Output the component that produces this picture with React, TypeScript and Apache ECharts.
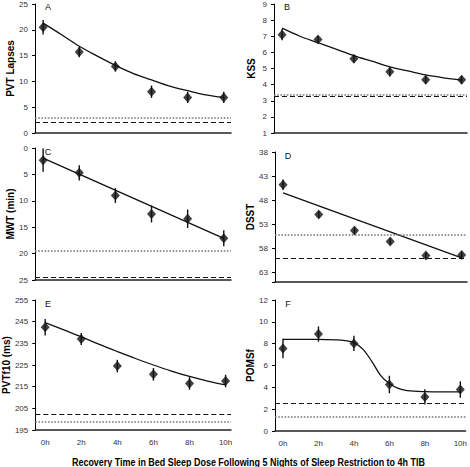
import React, { useEffect, useRef } from "react";
import * as echarts from "echarts";

const HOURS = [0, 2, 4, 6, 8, 10];
const HOUR_LABELS = ["0h", "2h", "4h", "6h", "8h", "10h"];
const FIT_HOURS = [0, 1, 2, 3, 4, 5, 6, 7, 8, 9, 10];
const LINE_HOURS = [0, 10];
const POMS_FIT_HOURS = [0, 1, 2, 3, 3.5, 4, 4.5, 5, 5.5, 6, 6.5, 7, 8, 9, 10];

// A: PVT Lapses
const PVT_MEAN = [20.5, 15.7, 12.9, 8.0, 6.9, 6.9];
const PVT_ERR = [1.4, 1.0, 1.0, 1.2, 1.1, 1.1];
const PVT_FIT = [21.3, 19.1, 16.8, 14.9, 13.1, 11.5, 10.3, 9.1, 8.2, 7.4, 6.9];
const PVT_DOTTED = 2.9;
const PVT_DASHED = 2.1;

// B: KSS
const KSS_MEAN = [7.1, 6.8, 5.6, 4.8, 4.3, 4.3];
const KSS_ERR = [0.35, 0.22, 0.24, 0.3, 0.25, 0.25];
const KSS_FIT = [7.5, 7.0, 6.6, 6.2, 5.8, 5.45, 5.1, 4.85, 4.6, 4.42, 4.28];
const KSS_DOTTED = 3.36;
const KSS_DASHED = 3.26;

// C: MWT (min)
const MWT_MEAN = [2.3, 4.7, 9.0, 12.5, 13.4, 17.1];
const MWT_ERR = [2.2, 1.45, 1.4, 1.6, 1.75, 1.5];
const MWT_FIT = [1.9, 17.1];
const MWT_DOTTED = 19.5;
const MWT_DASHED = 24.4;

// D: DSST
const DSST_MEAN = [44.8, 51.0, 54.3, 56.6, 59.5, 59.4];
const DSST_ERR = [1.1, 0.7, 0.7, 0.7, 0.7, 0.7];
const DSST_FIT = [46.5, 60.0];
const DSST_DOTTED = 55.2;
const DSST_DASHED = 60.0;

// E: PVTf10 (ms)
const PVTF_MEAN = [242.4, 237.0, 224.5, 220.7, 216.5, 217.6];
const PVTF_ERR = [3.8, 2.8, 2.9, 2.9, 2.9, 2.9];
const PVTF_FIT = [244.6, 241.3, 238.0, 234.5, 231.2, 228.0, 225.0, 222.2, 219.7, 217.6, 215.8];
const PVTF_DOTTED = 198.8;
const PVTF_DASHED = 202.4;

// F: POMSf
const POMS_MEAN = [7.56, 8.88, 8.02, 4.26, 3.12, 3.8];
const POMS_ERR = [0.9, 0.7, 0.7, 0.8, 0.7, 0.75];
const POMS_FIT = [8.4, 8.4, 8.4, 8.35, 8.28, 8.1, 7.5, 6.4, 5.1, 4.35, 3.9, 3.7, 3.6, 3.58, 3.58];
const POMS_DOTTED = 1.35;
const POMS_DASHED = 2.5;

const X_TITLE = "Recovery Time in Bed Sleep Dose Following 5 Nights of Sleep Restriction to 4h TIB";

const TICK_FONT = "'Liberation Sans Narrow', 'Liberation Sans', Arial, sans-serif";
const TITLE_FONT = "'Liberation Sans', Arial, sans-serif";

type Panel = {
  letter: string;
  name: string;
  mean: number[];
  err: number[];
  fitX: number[];
  fitY: number[];
  dotted: number;
  dashed: number;
  yMin: number;
  yMax: number;
  yInterval: number;
  inverse: boolean;
  grid: { left: number; top: number; width: number; height: number };
  xMin: number;
  xMax: number;
  showX: boolean;
  nameGap: number;
};

const PANELS: Panel[] = [
  { letter: "A", name: "PVT Lapses", mean: PVT_MEAN, err: PVT_ERR, fitX: FIT_HOURS, fitY: PVT_FIT, dotted: PVT_DOTTED, dashed: PVT_DASHED, yMin: 0, yMax: 25, yInterval: 5, inverse: false, grid: { left: 35, top: 3, width: 196, height: 130 }, xMin: -0.45, xMax: 10.4, showX: false, nameGap: 18 },
  { letter: "B", name: "KSS", mean: KSS_MEAN, err: KSS_ERR, fitX: FIT_HOURS, fitY: KSS_FIT, dotted: KSS_DOTTED, dashed: KSS_DASHED, yMin: 1, yMax: 9, yInterval: 1, inverse: false, grid: { left: 274, top: 3, width: 193, height: 130 }, xMin: -0.45, xMax: 10.3, showX: false, nameGap: 18 },
  { letter: "C", name: "MWT (min)", mean: MWT_MEAN, err: MWT_ERR, fitX: LINE_HOURS, fitY: MWT_FIT, dotted: MWT_DOTTED, dashed: MWT_DASHED, yMin: 0, yMax: 25, yInterval: 5, inverse: true, grid: { left: 35, top: 148, width: 196, height: 132 }, xMin: -0.45, xMax: 10.4, showX: false, nameGap: 20 },
  { letter: "D", name: "DSST", mean: DSST_MEAN, err: DSST_ERR, fitX: LINE_HOURS, fitY: DSST_FIT, dotted: DSST_DOTTED, dashed: DSST_DASHED, yMin: 38, yMax: 65, yInterval: 5, inverse: true, grid: { left: 275, top: 152, width: 192, height: 130 }, xMin: -0.45, xMax: 10.3, showX: false, nameGap: 20 },
  { letter: "E", name: "PVTf10 (ms)", mean: PVTF_MEAN, err: PVTF_ERR, fitX: FIT_HOURS, fitY: PVTF_FIT, dotted: PVTF_DOTTED, dashed: PVTF_DASHED, yMin: 195, yMax: 255, yInterval: 10, inverse: false, grid: { left: 35, top: 300, width: 196, height: 130 }, xMin: -0.55, xMax: 10.3, showX: true, nameGap: 24 },
  { letter: "F", name: "POMSf", mean: POMS_MEAN, err: POMS_ERR, fitX: POMS_FIT_HOURS, fitY: POMS_FIT, dotted: POMS_DOTTED, dashed: POMS_DASHED, yMin: 0, yMax: 12, yInterval: 2, inverse: false, grid: { left: 275, top: 300, width: 192, height: 131 }, xMin: -0.45, xMax: 10.3, showX: true, nameGap: 20 },
];

function buildOption(titleScale: number) {
  const grid: any[] = [];
  const xAxis: any[] = [];
  const yAxis: any[] = [];
  const series: any[] = [];
  const graphic: any[] = [];

  PANELS.forEach((p, i) => {
    grid.push({ ...p.grid, containLabel: false });
    xAxis.push({
      type: "value",
      gridIndex: i,
      min: p.xMin,
      max: p.xMax,
      splitLine: { show: false },
      axisLine: { show: true, onZero: false, lineStyle: { color: "#222", width: 1.5 } },
      axisTick: { show: false },
      axisLabel: {
        show: p.showX,
        customValues: HOURS,
        formatter: (v: number) => {
          const k = HOURS.indexOf(v);
          return k >= 0 ? HOUR_LABELS[k] : "";
        },
        fontFamily: TICK_FONT,
        fontSize: 8,
        color: "#333",
        margin: 8,
      },
    });
    const ticks: number[] = [];
    for (let v = p.yMin; v <= p.yMax; v += p.yInterval) ticks.push(v);
    yAxis.push({
      type: "value",
      gridIndex: i,
      min: p.yMin,
      max: p.yMax,
      interval: p.yInterval,
      inverse: p.inverse,
      name: p.name,
      nameLocation: "middle",
      nameGap: p.nameGap,
      nameTextStyle: { fontFamily: TITLE_FONT, fontWeight: "bold", fontSize: 10, color: "#000" },
      splitLine: { show: false },
      axisLine: { show: true, onZero: false, lineStyle: { color: "#000", width: 1 } },
      axisTick: { show: true, length: 3, lineStyle: { color: "#000" } },
      axisLabel: {
        fontFamily: TICK_FONT,
        fontSize: 8,
        color: "#333",
        margin: 7,
        formatter: (v: number) => (ticks.indexOf(v) >= 0 ? String(v) : ""),
      },
    });

    // reference lines
    series.push({
      type: "line",
      xAxisIndex: i,
      yAxisIndex: i,
      data: [],
      silent: true,
      markLine: {
        symbol: "none",
        silent: true,
        label: { show: false },
        data: [
          { yAxis: p.dotted, lineStyle: { type: "dotted", color: "#777", width: 1.6 } },
          { yAxis: p.dashed, lineStyle: { type: [5, 3], color: "#111", width: 1.1 } },
        ],
      },
    });

    // fitted curve
    series.push({
      type: "line",
      xAxisIndex: i,
      yAxisIndex: i,
      data: p.fitX.map((x, k) => [x, p.fitY[k]]),
      smooth: p.fitX.length > 2 ? 0.35 : false,
      showSymbol: false,
      lineStyle: { color: "#111", width: 1.3 },
      z: 3,
    });

    // error bars
    series.push({
      type: "custom",
      xAxisIndex: i,
      yAxisIndex: i,
      encode: { x: 0, y: [1, 2] },
      data: HOURS.map((h, k) => [h, p.mean[k] - p.err[k], p.mean[k] + p.err[k]]),
      renderItem: (params: any, api: any) => {
        const x = api.value(0);
        const a = api.coord([x, api.value(1)]);
        const b = api.coord([x, api.value(2)]);
        return {
          type: "line",
          shape: { x1: a[0], y1: a[1], x2: b[0], y2: b[1] },
          style: { stroke: "#111", lineWidth: 1.4 },
        };
      },
      z: 4,
    });

    // means
    series.push({
      type: "scatter",
      xAxisIndex: i,
      yAxisIndex: i,
      data: HOURS.map((h, k) => [h, p.mean[k]]),
      symbol: "diamond",
      symbolSize: [9, 10],
      itemStyle: { color: "#111" },
      z: 5,
    });

    graphic.push({
      type: "text",
      x: p.grid.left + 13,
      y: p.grid.top + 4,
      style: { text: p.letter, fontFamily: TITLE_FONT, fontSize: 9, fill: "#111", textAlign: "center", textVerticalAlign: "middle" },
    });
  });

  graphic.push({
    type: "text",
    x: 72,
    y: 462,
    scaleX: titleScale,
    style: { text: X_TITLE, fontFamily: TITLE_FONT, fontWeight: "bold", fontSize: 11, fill: "#000", textAlign: "left", textVerticalAlign: "middle" },
  });

  return { animation: false, backgroundColor: "#fff", grid, xAxis, yAxis, series, graphic };
}

export default function App() {
  const ref = useRef<HTMLDivElement>(null);
  useEffect(() => {
    if (!ref.current) return;
    let scale = 0.78;
    try {
      const ctx = document.createElement("canvas").getContext("2d");
      if (ctx) {
        ctx.font = "bold 11px 'Liberation Sans', Arial, sans-serif";
        const w = ctx.measureText(X_TITLE).width;
        if (w > 0) scale = 353 / w;
      }
    } catch (e) {}
    const chart = echarts.init(ref.current, undefined, { renderer: "svg" });
    chart.setOption(buildOption(scale));
    return () => chart.dispose();
  }, []);
  return (
    <div
      ref={ref}
      style={{ position: "fixed", left: 0, top: 0, width: 470, height: 467, background: "#fff" }}
    />
  );
}
